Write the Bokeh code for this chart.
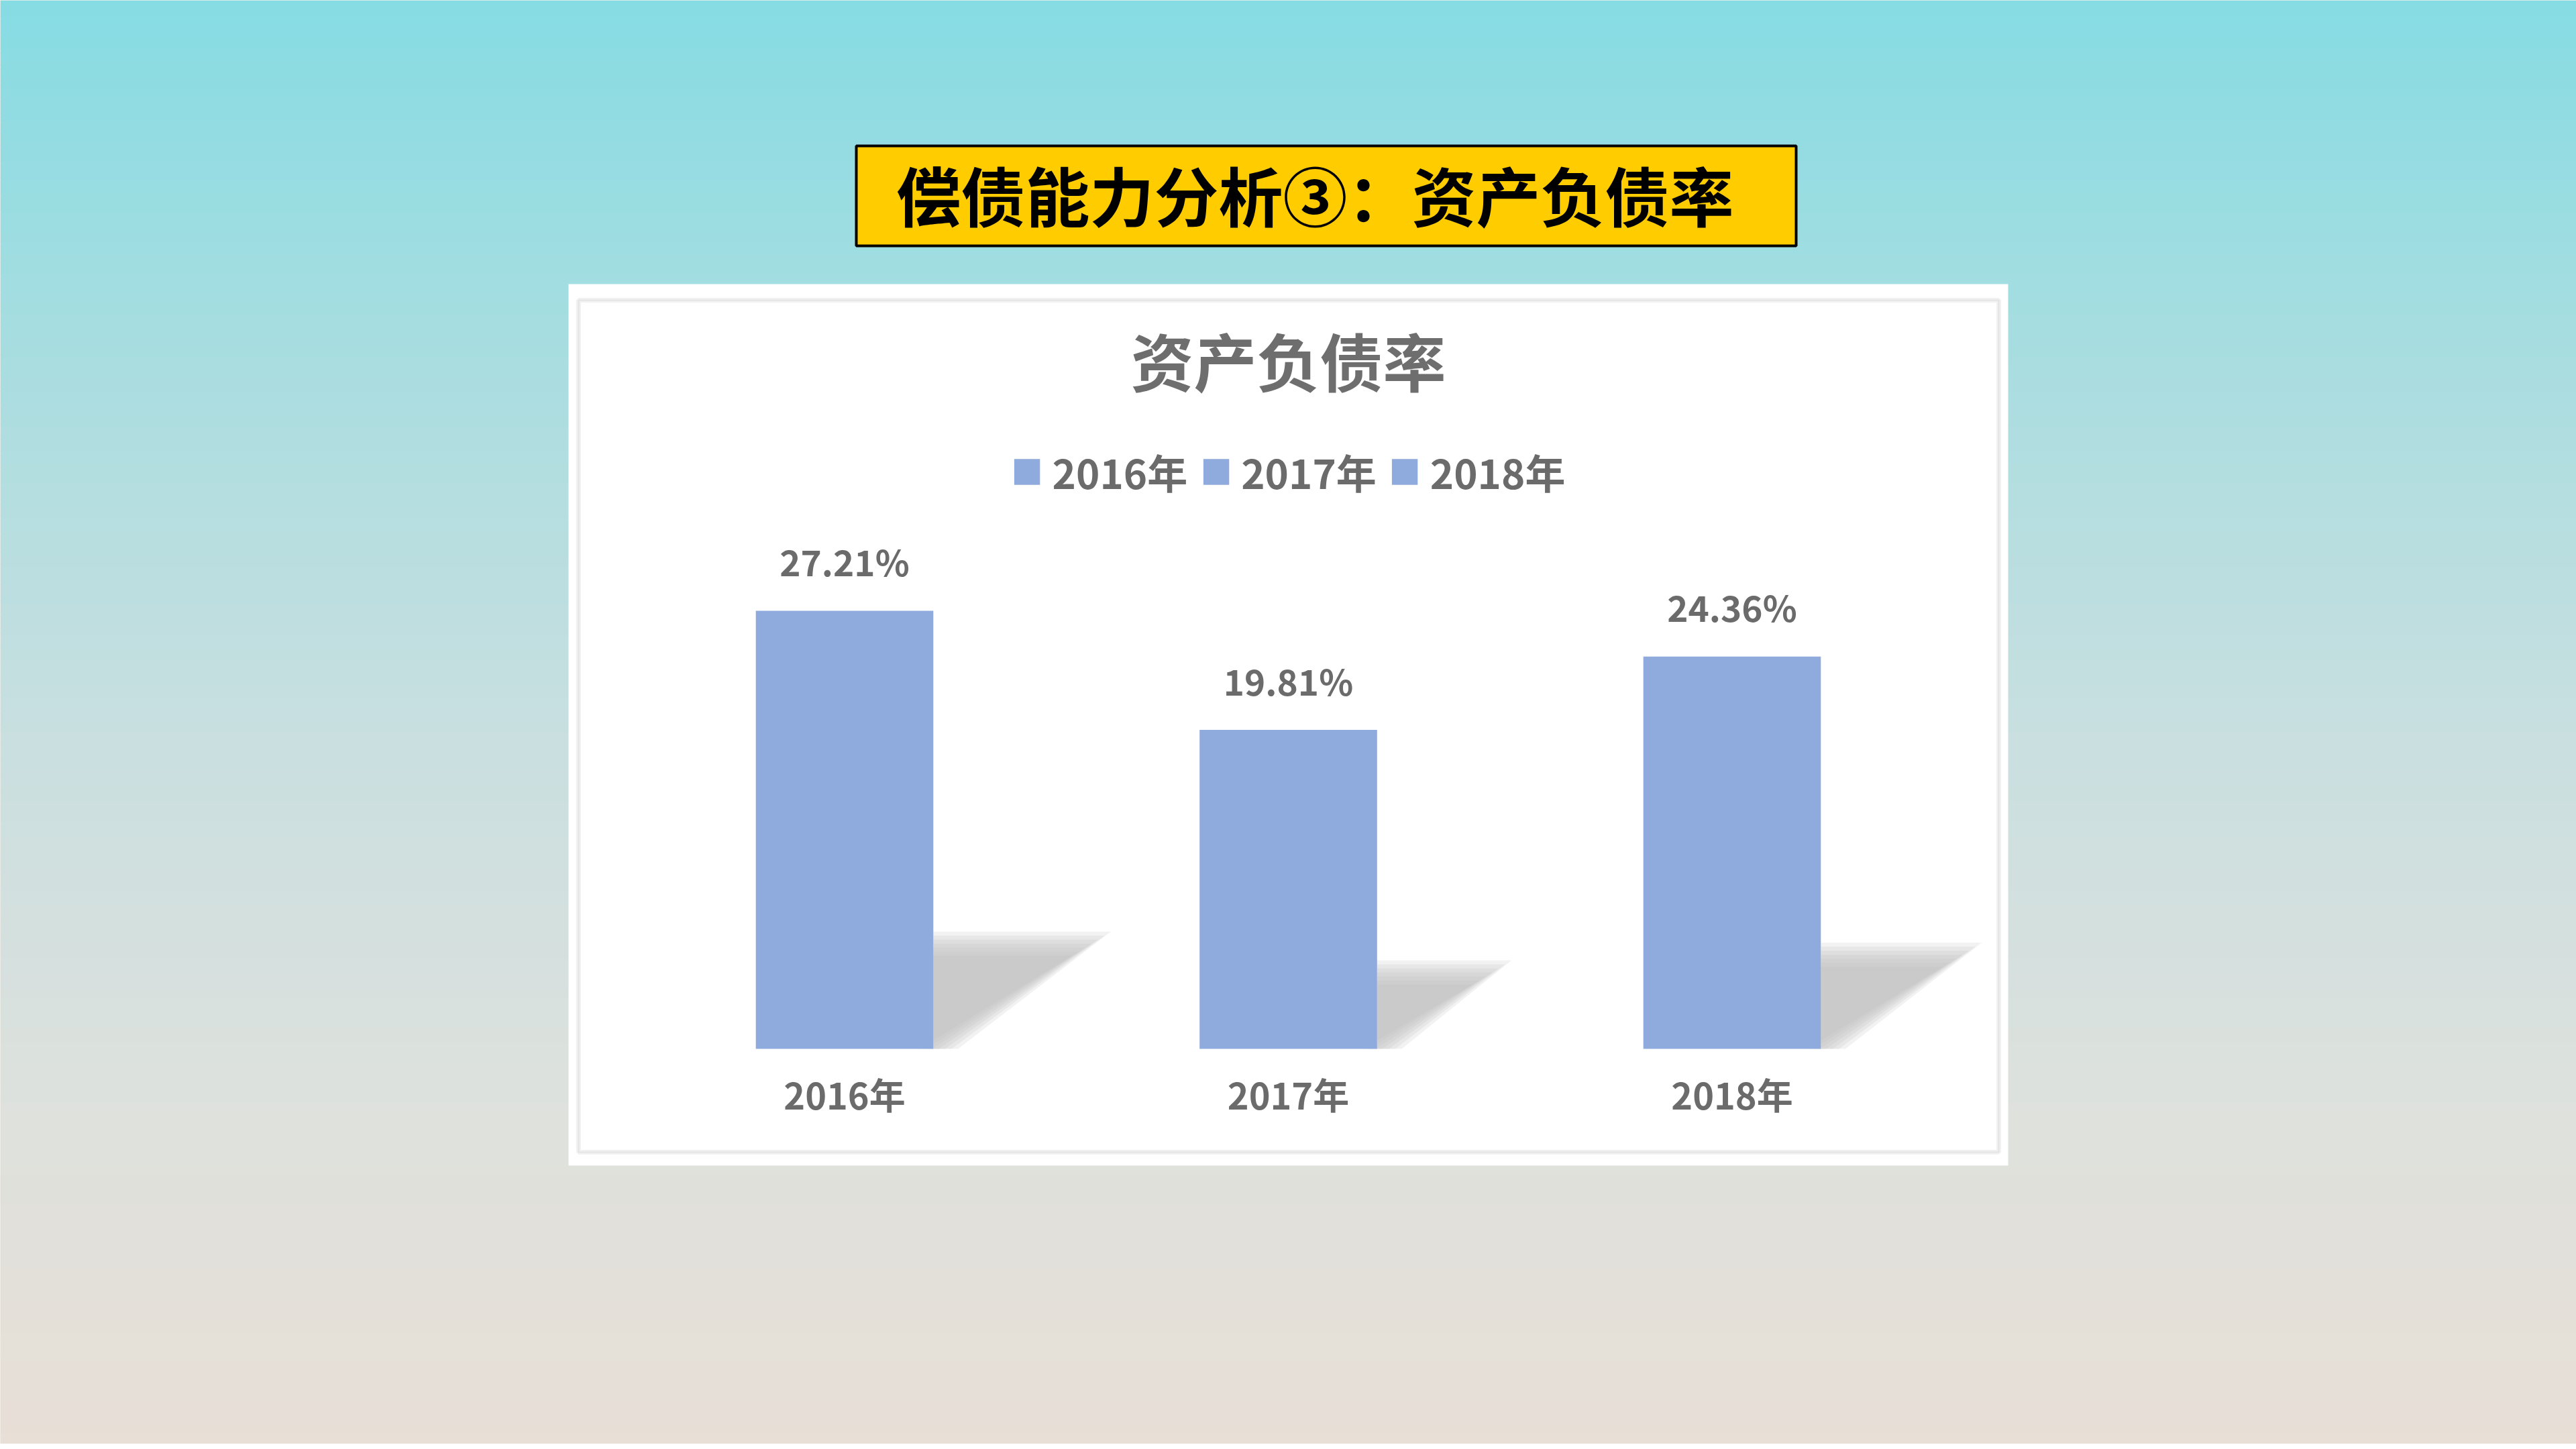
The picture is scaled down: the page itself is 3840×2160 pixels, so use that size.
import numpy as np
from bokeh.plotting import figure
from bokeh.models import FactorRange, Range1d, Legend, LegendItem
from bokeh.core.properties import value
from bokeh.embed import file_html
from bokeh.resources import INLINE

# ---------------- data ----------------
categories = ["2016年", "2017年", "2018年"]
debt_ratio = [27.21, 19.81, 24.36]          # 资产负债率 (%)
value_labels = [f"{v:.2f}%" for v in debt_ratio]
page_title = "偿债能力分析③：资产负债率"
chart_title = "资产负债率"

# ---------------- geometry helpers ----------------
W, H = 3840, 2152
MX, MY = 0, 0               # page offsets of the figure
SIDE = (W / 661.5 - 3) / 2  # categorical padding on each side (category spacing ~661px)
UX = W / (3 + 2 * SIDE)     # px per category unit
UY = 24.0                   # px per percent
BASE = 1563                 # screen y of value 0 (reference coords)

FONT_NAME = "Noto Sans CJK SC"
FONT = value(FONT_NAME)
GRAY = "#6b6b6b"


def X(px):
    return -SIDE + (px - MX) / UX


def Y(py):
    return (BASE - py) / UY


p = figure(width=W, height=H,
           x_range=FactorRange(factors=categories, range_padding=SIDE,
                               range_padding_units="absolute"),
           y_range=Range1d(Y(H + MY), Y(MY)),
           output_backend="svg", toolbar_location=None,
           x_axis_location=None, y_axis_location=None,
           min_border=0, outline_line_color=None)
p.grid.visible = False
p.background_fill_color = "#e8dfd6"
p.border_fill_color = "#e8dfd6"

# ---------------- background gradient ----------------
stops_y = [0, 540, 1080, 1620, 2160]
stops_c = np.array([(0x86, 0xDC, 0xE3), (0xA9, 0xDD, 0xE0), (0xC8, 0xDF, 0xE0),
                    (0xDD, 0xE1, 0xDD), (0xE8, 0xDF, 0xD6)], dtype=float)
step = 6
ys = np.arange(0, 2160, step)
cols = []
for y in ys:
    c = [np.interp(y + step / 2, stops_y, stops_c[:, k]) for k in range(3)]
    cols.append("#%02x%02x%02x" % tuple(int(round(v)) for v in c))
p.quad(left=X(0), right=X(3840), top=[Y(y) for y in ys],
       bottom=[Y(y + step + 1) for y in ys], fill_color=cols, line_color=None)

# ---------------- page title box ----------------
p.quad(left=[X(1276)], right=[X(2677)], top=[Y(217)], bottom=[Y(366)],
       fill_color="#FFCC00", line_color="#000000", line_width=4)
p.text(x=[X(1960)], y=[Y(288)], text=[page_title], text_align="center",
       text_baseline="middle", text_font=FONT, text_font_style="bold",
       text_font_size="96px", text_color="#000000")

# ---------------- white chart panel ----------------
p.quad(left=[X(847)], right=[X(2993)], top=[Y(423)], bottom=[Y(1737)],
       fill_color="#ffffff", line_color=None)
p.quad(left=[X(862)], right=[X(2979)], top=[Y(447)], bottom=[Y(1717)],
       fill_color=None, line_color="#f1f1f1", line_width=7)
p.quad(left=[X(862)], right=[X(2979)], top=[Y(447)], bottom=[Y(1717)],
       fill_color=None, line_color="#e4e4e4", line_width=2)

# chart title
p.text(x=[X(1920)], y=[Y(535)], text=[chart_title], text_align="center",
       text_baseline="middle", text_font=FONT, text_font_style="bold",
       text_font_size="94px", text_color="#6e6e6e")

# ---------------- soft shadows (decoration derived from bar values) ----------------
BAR_W = 0.4
for i, v in enumerate(debt_ratio):
    xr = i + 0.5 + BAR_W / 2
    h = 0.24 * v
    ws = 0.0131 * v
    for s in (-18, -12, -6, 0, 6, 12, 18):
        dy = s / UY
        dx = s / UX
        xs = [xr, xr, xr + ws - 1.6 * dx, xr + 0.012 - 1.6 * dx]
        yv = [0, h - dy, h - dy, 0]
        p.patch(x=xs, y=yv, fill_color="#bdbdbd", fill_alpha=0.2, line_color=None)

# ---------------- bars ----------------
bars = p.vbar(x=categories, top=debt_ratio, width=BAR_W, bottom=0,
              fill_color="#8FAADC", line_color=None)

# value labels
p.text(x=categories, y=[v + 3.1 for v in debt_ratio], text=value_labels,
       text_align="center", text_baseline="alphabetic", text_font=FONT,
       text_font_style="bold", text_font_size="53px", text_color=GRAY)

# category labels
p.text(x=categories, y=[Y(1630)] * len(categories), text=categories,
       text_align="center", text_baseline="alphabetic", text_font=FONT,
       text_font_style="bold", text_font_size="54px", text_color=GRAY)

# ---------------- legend ----------------
legend = Legend(items=[LegendItem(label=c, renderers=[bars], index=i)
                       for i, c in enumerate(categories)],
                orientation="horizontal", location="top_center", margin=659,
                glyph_width=48, glyph_height=48, label_standoff=14, spacing=18,
                padding=0, border_line_alpha=0, background_fill_alpha=0,
                label_text_font=FONT_NAME, label_text_font_style="bold",
                label_text_font_size="60px", label_text_color=GRAY)
p.add_layout(legend)

open("out.html", "w").write(file_html(p, INLINE))
